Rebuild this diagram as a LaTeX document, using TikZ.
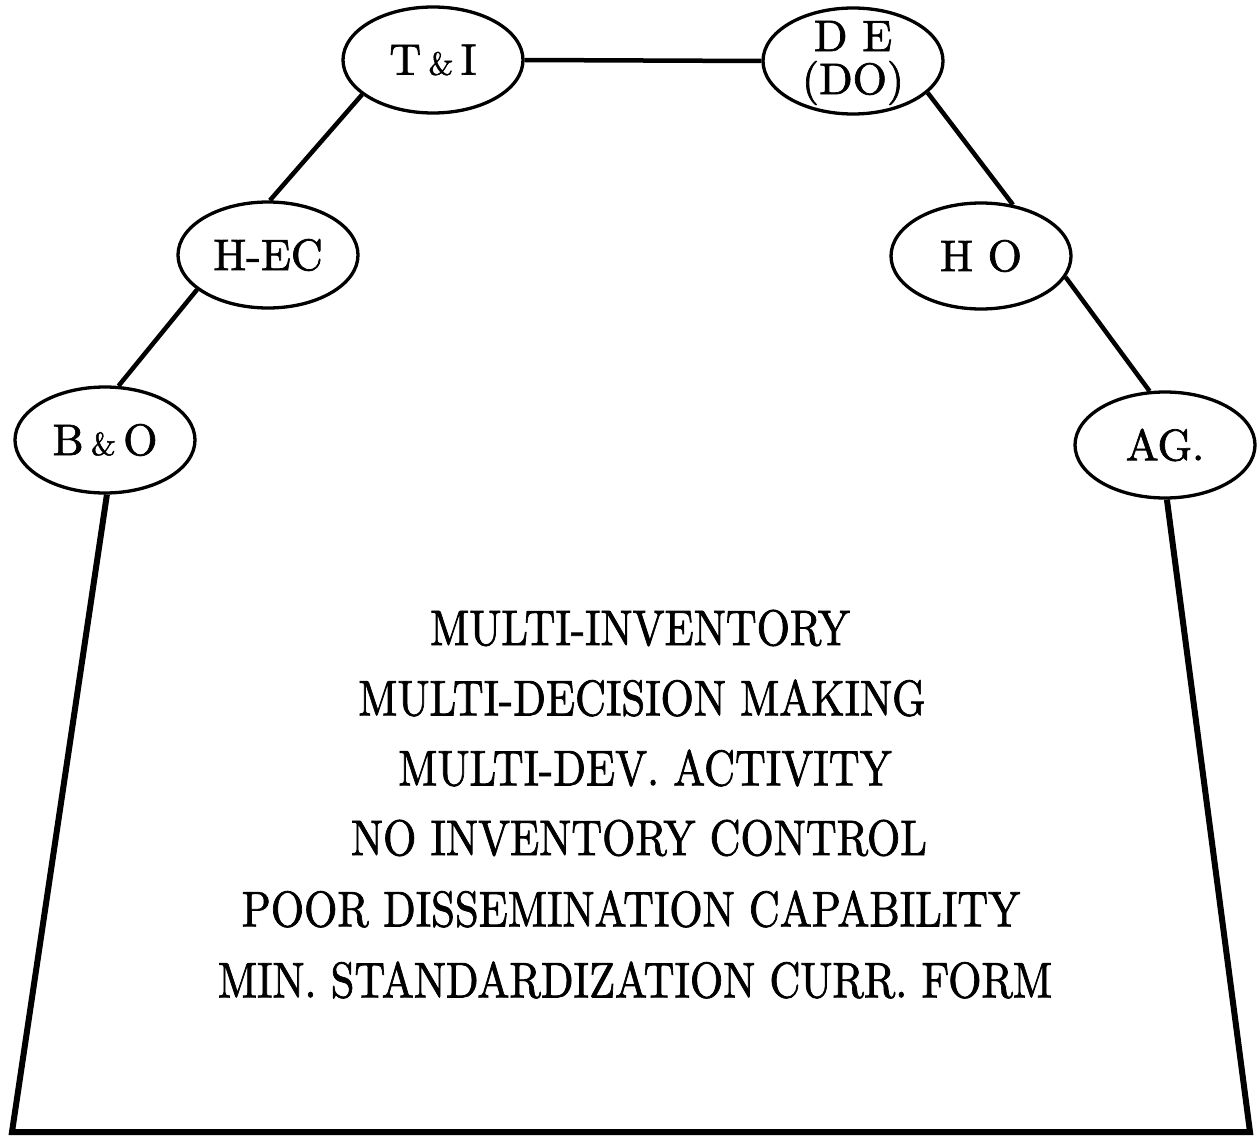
\documentclass[tikz,border=0pt]{standalone}
\usepackage{fontspec}
\usetikzlibrary{shapes.geometric}
\newfontfamily\heavy{lmroman10-regular.otf}[FakeBold=1.6]
\newcommand\smallamp{{\fontsize{32}{32}\selectfont\&}}
\newcommand\narrow[1]{\scalebox{0.855}[1]{#1}}
\begin{document}
\begin{tikzpicture}[x=1pt,y=-1pt,
  unit/.style={ellipse,draw,line width=3.3pt,minimum width=180pt,minimum height=106pt,
    inner sep=0pt,font=\heavy\fontsize{44}{44}\selectfont,align=center},
  tag/.style={inner sep=0pt,font=\heavy\fontsize{44}{43}\selectfont,align=center},
  link/.style={line width=4.5pt},
  frame/.style={line width=6pt,line join=miter},
  item/.style={font=\heavy\fontsize{50}{52}\selectfont,inner sep=0pt}]
\useasboundingbox (0,0) rectangle (1257,1137);

% organisational units
\node[unit] (ti)  at (433,60)   {T\,\smallamp\,I};
\node[unit] (de)  at (853,61)   {};
\node[tag]  (detext) at (853,63) {D E\\(DO)};
\node[unit] (hec) at (268,255)  {H-EC};
\node[unit] (ho)  at (981,256)  {H O};
\node[unit] (bo)  at (105,440)  {B\,\smallamp\,O};
\node[unit] (ag)  at (1165,445) {AG.};

% base corners
\coordinate (bl) at (12,1132);
\coordinate (br) at (1250,1132);

% links between units
\draw[link] (ti.east) -- (de.west);
\draw[link] (ti.206) -- (hec.88);
\draw[link] (hec.206) -- (bo.76);
\draw[link] (de.337) -- (ho.58);
\draw[link] (ho.346) -- (ag.106);

% enclosing frame
\draw[frame] (bo.272) -- (bl) -- (br) -- (ag.272);

% problem list
\node[item] (p1) at (640,628) {\narrow{MULTI-INVENTORY}};
\node[item] (p2) at (642,698) {\narrow{MULTI-DECISION MAKING}};
\node[item] (p3) at (645,768) {\narrow{MULTI-DEV. ACTIVITY}};
\node[item] (p4) at (639,838) {\narrow{NO INVENTORY CONTROL}};
\node[item] (p5) at (631,909) {\narrow{POOR DISSEMINATION CAPABILITY}};
\node[item] (p6) at (635,980) {\narrow{MIN. STANDARDIZATION CURR. FORM}};
\end{tikzpicture}
\end{document}
